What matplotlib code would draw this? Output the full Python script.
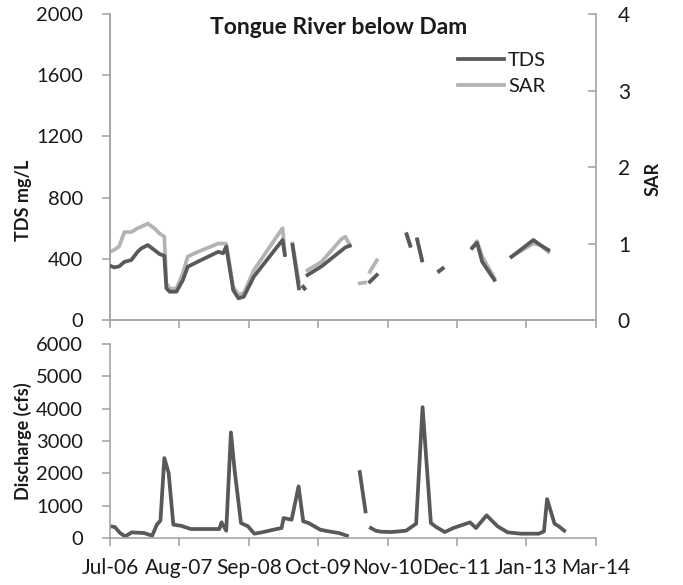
import numpy as np
import pandas as pd
import matplotlib
matplotlib.use("Agg")
import matplotlib.pyplot as plt
import matplotlib.dates as mdates

plt.rcParams["font.family"] = ["Lato", "DejaVu Sans"]

# water quality samples (NaN = no sample, breaks the line)
wq_dates = ["2006-07-01", "2006-07-24", "2006-08-22", "2006-09-22", "2006-11-01", "2006-12-07",
            "2006-12-28", "2007-02-04", "2007-03-13", "2007-04-13", "2007-05-10", "2007-05-22",
            "2007-06-10", "2007-07-19", "2007-08-25", "2007-09-22", "2007-11-19", "2008-03-16",
            "2008-04-13", "2008-05-01", "2008-06-10", "2008-07-10", "2008-08-10", "2008-10-07",
            "2009-02-13", "2009-03-22", "2009-04-04", "2009-04-25",
            "2009-05-18", "2009-06-24", "2009-07-08", "2009-07-19", "2009-07-26", "2009-08-01",
            "2009-08-13", "2009-11-01", "2010-02-25", "2010-03-19", "2010-04-13", "2010-05-10",
            "2010-06-10", "2010-07-10", "2010-07-25", "2010-08-07", "2010-09-16", "2010-12-01",
            "2011-03-07", "2011-03-28", "2011-04-15", "2011-05-07", "2011-06-04", "2011-07-15",
            "2011-09-10", "2011-10-01", "2011-12-15",
            "2012-03-19", "2012-04-16", "2012-05-16", "2012-07-25", "2012-09-01",
            "2012-11-01", "2013-03-07", "2013-04-16", "2013-06-01"]
tds = [355, 344, 350, 380, 392, 446,
       468, 490, 458, 431, 420, 207,
       185, 185, 261, 348, 381, 446,
       436, 480, 196, 142, 152, 283,
       470, 523, 425, np.nan,
       490, 207, np.nan, 215, 205, np.nan,
       294, 350, 455, 475, 485, np.nan,
       np.nan, np.nan, np.nan, 250, 294, np.nan,
       560, 485, np.nan, 525, 390, np.nan,
       320, 338, np.nan,
       470, 505, 380, 262, np.nan,
       413, 523, 490, 458]
sar = [0.89, 0.915, 0.96, 1.15, 1.15, 1.20,
       1.22, 1.26, 1.20, 1.13, 1.09, 0.48,
       0.41, 0.41, 0.61, 0.83, 0.89, 1.00,
       1.00, 1.00, 0.435, 0.33, 0.35, 0.65,
       1.08, 1.20, 0.87, np.nan,
       1.00, 0.50, np.nan, 0.44, 0.42, np.nan,
       0.65, 0.76, 1.06, 1.09, 0.98, np.nan,
       0.48, 0.49, np.nan, 0.63, 0.78, np.nan,
       1.12, 0.98, np.nan, 1.06, 0.78, np.nan,
       0.63, 0.67, np.nan,
       0.95, 1.03, 0.83, 0.55, np.nan,
       0.83, 1.00, 0.98, 0.89]

# daily discharge at the gauge, sampled
q_dates = ["2006-07-06", "2006-07-29", "2006-08-28", "2006-09-27", "2006-11-03", "2007-01-13",
           "2007-03-01", "2007-03-28", "2007-04-18", "2007-05-10", "2007-06-04", "2007-07-01",
           "2007-08-13", "2007-10-10", "2008-03-22", "2008-04-04", "2008-05-01", "2008-05-28",
           "2008-06-18", "2008-07-10", "2008-07-25", "2008-09-04", "2008-10-10", "2008-11-22",
           "2009-01-28", "2009-03-16", "2009-03-28", "2009-05-13", "2009-06-22", "2009-07-19",
           "2009-08-19", "2009-10-25", "2009-12-13", "2010-02-10", "2010-03-28", "2010-05-01",
           "2010-06-10", "2010-07-13", "2010-07-28",
           "2010-08-13", "2010-09-10", "2010-10-10", "2010-12-07", "2011-03-04", "2011-05-01",
           "2011-06-07", "2011-07-25", "2011-08-25", "2011-10-13", "2011-12-01", "2012-03-07",
           "2012-04-10", "2012-06-10", "2012-08-13", "2012-10-10", "2012-12-25", "2013-04-07",
           "2013-05-07", "2013-05-25", "2013-07-07", "2013-08-01", "2013-09-01"]
discharge = [360, 339, 154, 51, 175, 154,
             72, 412, 545, 2470, 2008, 412,
             381, 278, 278, 484, 226, 3262,
             2110, 1132, 463, 360, 134, 175,
             257, 309, 617, 566, 1595, 515,
             463, 257, 206, 154, 72, np.nan,
             2037, 823, np.nan,
             309, 226, 195, 185, 226, 442,
             4044, 463, 339, 185, 309, 484,
             309, 700, 360, 175, 134, 134,
             206, 1204, 442, 360, 226]

x_start = pd.Timestamp("2006-07-01")
x_ticks = [x_start + pd.Timedelta(days=400 * k) for k in range(8)]

wq_t = pd.to_datetime(wq_dates)
q_t = pd.to_datetime(q_dates)

axis_grey = "#a6a6a6"
text_col = "#1a1a1a"
fig = plt.figure(figsize=(6.83, 5.85), dpi=100)
ax1 = fig.add_axes([0.1611, 0.453, 0.711, 0.523])
ax1r = ax1.twinx()
ax2 = fig.add_axes([0.1611, 0.0803, 0.711, 0.332])

l_tds, = ax1.plot(wq_t, tds, color="#595959", lw=2.7, label="TDS", zorder=3)
l_sar, = ax1r.plot(wq_t, sar, color="#b3b3b3", lw=2.7, label="SAR", zorder=2)
ax1.set_zorder(ax1r.get_zorder() + 1)
ax1.patch.set_visible(False)

ax1.set_ylim(0, 2000)
ax1.set_yticks([0, 400, 800, 1200, 1600, 2000])
ax1r.set_ylim(0, 4)
ax1r.set_yticks([0, 1, 2, 3, 4])
ax1.set_ylabel("TDS mg/L", fontsize=13, fontweight="bold", color=text_col)
ax1.yaxis.set_label_coords(-0.16, 0.39)
ax1r.set_ylabel("SAR", fontsize=13, fontweight="bold", color=text_col)
ax1r.yaxis.set_label_coords(1.10, 0.46)

ax2.plot(q_t, discharge, color="#595959", lw=2.7)
ax2.set_ylim(0, 6000)
ax2.set_yticks(range(0, 6001, 1000))
ax2.set_ylabel("Discharge (cfs)", fontsize=13, fontweight="bold", color=text_col)
ax2.yaxis.set_label_coords(-0.16, 0.5)

for ax in (ax1, ax1r, ax2):
    ax.set_xlim(x_ticks[0], x_ticks[-1])
    ax.set_xticks(x_ticks)
    ax.xaxis.set_major_formatter(mdates.DateFormatter("%b-%y"))
    ax.spines["top"].set_visible(False)
    for s in ax.spines.values():
        s.set_color(axis_grey)
        s.set_linewidth(1.2)
    ax.tick_params(colors=axis_grey, labelcolor=text_col, labelsize=15, length=5.5, width=1.2)

ax1.spines["right"].set_visible(False)
ax2.spines["right"].set_visible(False)
ax1.tick_params(axis="x", labelbottom=False)
ax1r.tick_params(axis="x", labelbottom=False)
ax1.tick_params(axis="y", labelsize=14.5, pad=14)
ax2.tick_params(axis="y", labelsize=14.5, pad=14)
ax1r.tick_params(axis="y", direction="in", pad=16)
ax2.tick_params(axis="x", pad=9)

ax1.text(0.47, 0.955, "Tongue River below Dam", transform=ax1.transAxes,
         ha="center", va="center", fontsize=16.5, fontweight="bold", color=text_col)
ax1.legend(handles=[l_tds, l_sar], loc="upper right", bbox_to_anchor=(0.935, 0.935),
           frameon=False, fontsize=14.5, handlelength=2.3, handletextpad=0.2,
           labelspacing=0.45, labelcolor=text_col)

fig.savefig("out.png", dpi=100)
